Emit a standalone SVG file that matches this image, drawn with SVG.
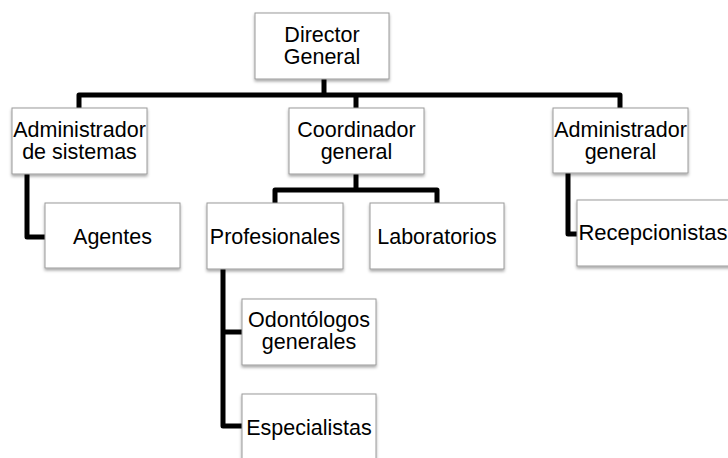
<svg xmlns="http://www.w3.org/2000/svg" width="728" height="458" viewBox="0 0 728 458">
  <defs>
    <filter id="shadow" x="-10%" y="-10%" width="120%" height="130%">
      <feDropShadow dx="0" dy="2" stdDeviation="1.5" flood-color="#000" flood-opacity="0.35"/>
    </filter>
  </defs>
  <style>
    .box { fill: #ffffff; stroke: #9a9a9a; stroke-width: 1; filter: url(#shadow); }
    .label { font-family: "Liberation Sans", Arial, sans-serif; font-size: 21.5px; fill: #000; text-anchor: middle; }
    .link { fill: none; stroke: #000; stroke-width: 5; stroke-linejoin: round; stroke-linecap: butt; }
  </style>
  <rect width="728" height="458" fill="#ffffff"/>

  <!-- connectors -->
  <g id="connectors">
    <path class="link" d="M79,108 V95 H620 V108"/>
    <path class="link" d="M324,79 V95"/>
    <path class="link" d="M356,95 V108"/>
    <path class="link" d="M356,174 V190"/>
    <path class="link" d="M275,203 V190 H437 V203"/>
    <path class="link" d="M27,174 V237 H45"/>
    <path class="link" d="M568,173 V234 H577"/>
    <path class="link" d="M223,269 V426 H242"/>
    <path class="link" d="M223,332 H242"/>
  </g>

  <!-- nodes -->
  <g id="director-general">
    <rect class="box" x="255" y="13" width="134" height="66"/>
    <text class="label"><tspan x="322" y="42">Director</tspan><tspan x="322" y="64">General</tspan></text>
  </g>
  <g id="admin-sistemas">
    <rect class="box" x="12" y="108" width="135" height="66"/>
    <text class="label"><tspan x="79.5" y="137">Administrador</tspan><tspan x="79.5" y="159">de sistemas</tspan></text>
  </g>
  <g id="coordinador-general">
    <rect class="box" x="289" y="108" width="135" height="66"/>
    <text class="label"><tspan x="356.5" y="137">Coordinador</tspan><tspan x="356.5" y="159">general</tspan></text>
  </g>
  <g id="admin-general">
    <rect class="box" x="553" y="108" width="135" height="65"/>
    <text class="label"><tspan x="620.5" y="137">Administrador</tspan><tspan x="620.5" y="159">general</tspan></text>
  </g>
  <g id="agentes">
    <rect class="box" x="45" y="203" width="135" height="65"/>
    <text class="label" x="112.5" y="244">Agentes</text>
  </g>
  <g id="profesionales">
    <rect class="box" x="207" y="203" width="136" height="66"/>
    <text class="label" x="275" y="244">Profesionales</text>
  </g>
  <g id="laboratorios">
    <rect class="box" x="370" y="203" width="134" height="66"/>
    <text class="label" x="437" y="244">Laboratorios</text>
  </g>
  <g id="recepcionistas">
    <rect class="box" x="577" y="200" width="170" height="66"/>
    <text class="label" x="653" y="240" style="font-size:22px">Recepcionistas</text>
  </g>
  <g id="odontologos-generales">
    <rect class="box" x="242" y="299" width="134" height="66"/>
    <text class="label"><tspan x="309" y="327">Odontólogos</tspan><tspan x="309" y="349">generales</tspan></text>
  </g>
  <g id="especialistas">
    <rect class="box" x="242" y="394" width="134" height="80"/>
    <text class="label" x="309" y="435">Especialistas</text>
  </g>
</svg>
